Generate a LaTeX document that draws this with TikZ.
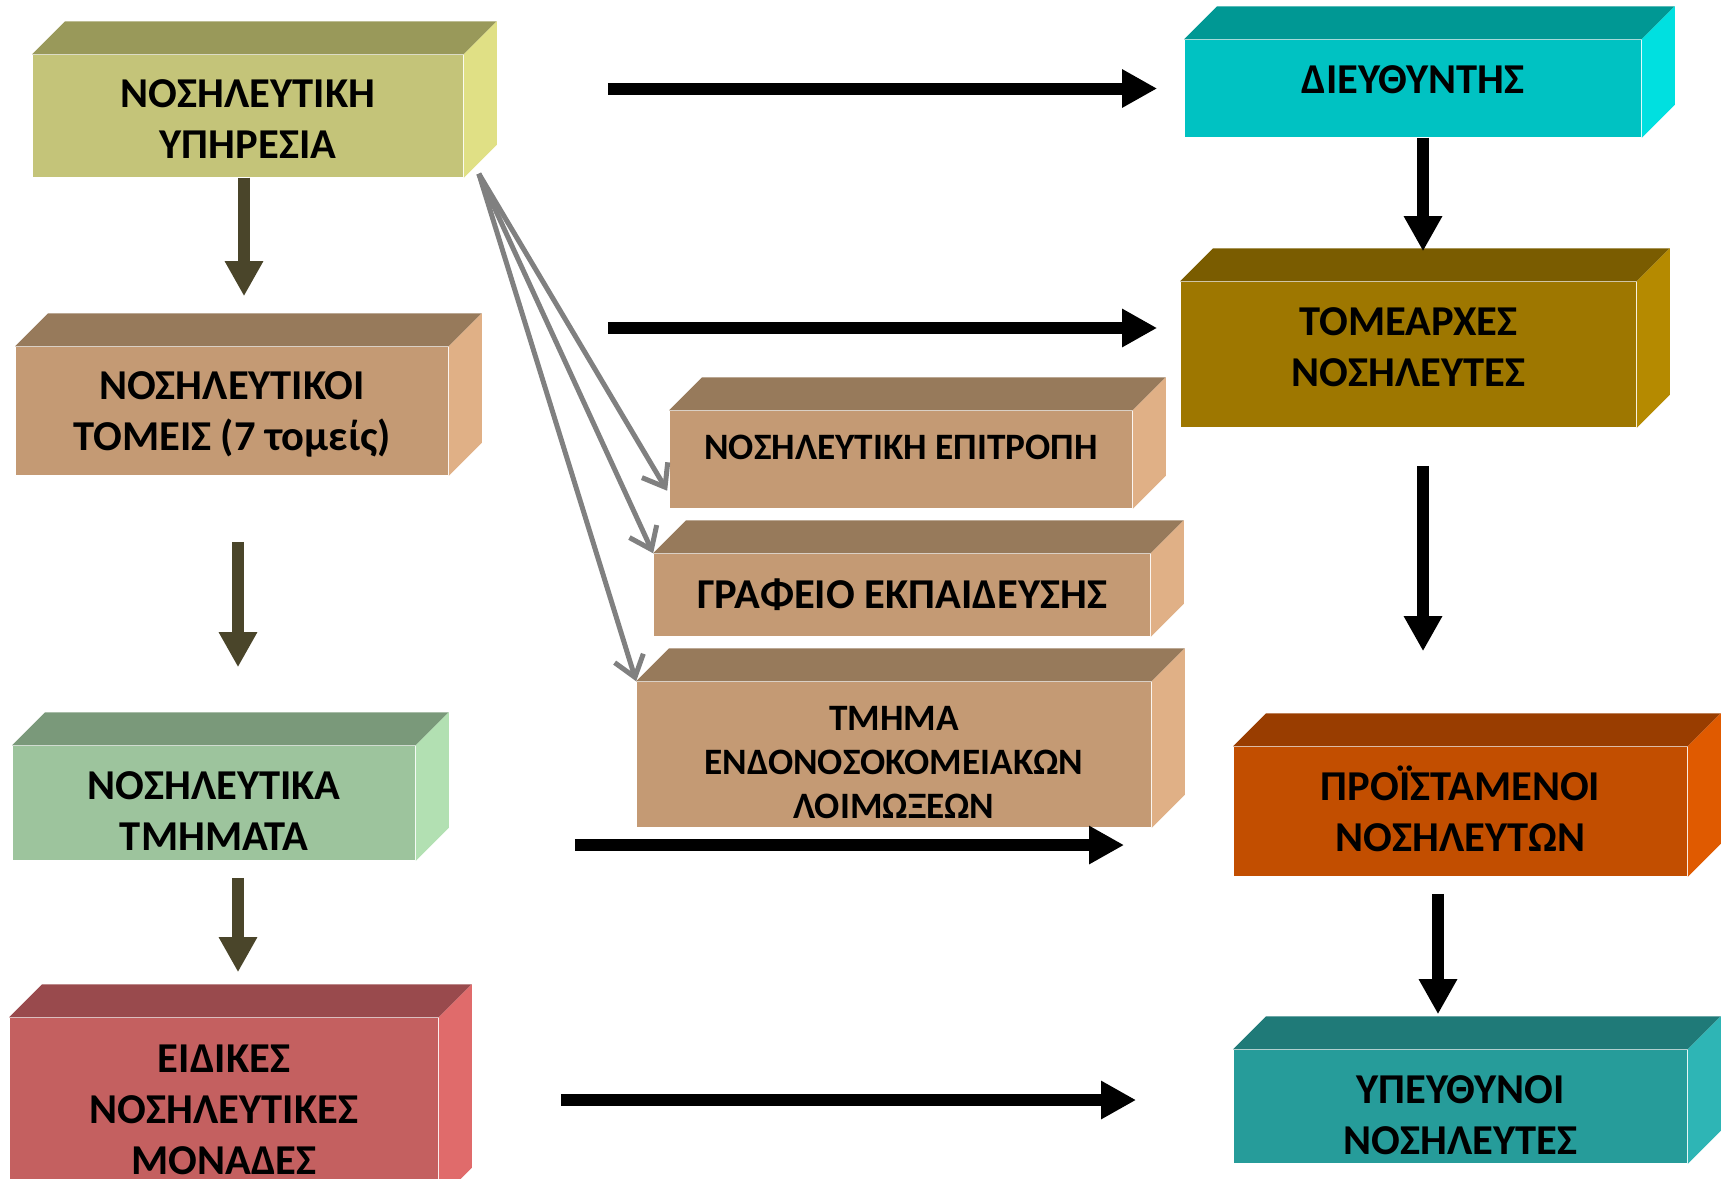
\documentclass[tikz,border=0pt]{standalone}
\usepackage{fontspec}
\setmainfont{Carlito}
\usetikzlibrary{calc}
\usetikzlibrary{arrows.meta}

\definecolor{oliveF}{RGB}{196,196,121}
\definecolor{oliveT}{RGB}{153,153,90}
\definecolor{oliveS}{RGB}{224,224,133}
\definecolor{tanF}{RGB}{196,154,116}
\definecolor{tanT}{RGB}{151,122,91}
\definecolor{tanS}{RGB}{224,176,134}
\definecolor{greenF}{RGB}{157,196,157}
\definecolor{greenT}{RGB}{122,153,122}
\definecolor{greenS}{RGB}{178,224,178}
\definecolor{redF}{RGB}{196,96,96}
\definecolor{redT}{RGB}{153,74,77}
\definecolor{redS}{RGB}{224,107,107}
\definecolor{cyanF}{RGB}{0,194,194}
\definecolor{cyanT}{RGB}{0,152,148}
\definecolor{cyanS}{RGB}{0,224,224}
\definecolor{ochreF}{RGB}{158,119,0}
\definecolor{ochreT}{RGB}{122,92,0}
\definecolor{ochreS}{RGB}{181,138,0}
\definecolor{orangeF}{RGB}{194,78,0}
\definecolor{orangeT}{RGB}{153,61,0}
\definecolor{orangeS}{RGB}{224,90,0}
\definecolor{tealF}{RGB}{38,156,154}
\definecolor{tealT}{RGB}{31,122,120}
\definecolor{tealS}{RGB}{46,181,181}
\definecolor{arrowdark}{RGB}{74,69,42}
\definecolor{arrowgray}{RGB}{128,128,128}

\newcommand\faces[3]{%
\fill[#2] (#1.north west)--++(33,-33)--($(#1.north east)+(33,-33)$)--(#1.north east)--cycle;
\fill[#3] (#1.north east)--++(33,-33)--($(#1.south east)+(33,-33)$)--(#1.south east)--cycle;
}

\tikzset{
  box/.style={rectangle, inner sep=0pt},
  txt/.style={inner sep=0pt, align=center, font=\bfseries\fontsize{12.1pt}{14.5pt}\selectfont},
  smalltxt/.style={txt, font=\bfseries\fontsize{10.6pt}{12.5pt}\selectfont},
  darr/.style={line width=0.12cm, draw=arrowdark, -{Triangle[length=0.35cm,width=0.36cm]}},
  barr/.style={line width=0.12cm, draw=black, -{Triangle[length=0.35cm,width=0.36cm]}},
  garr/.style={line width=0.05cm, draw=arrowgray, -{Straight Barb[length=0.2cm,width=0.3cm]}}
}

\begin{document}
\begin{tikzpicture}[x=0.01cm,y=-0.01cm]

\useasboundingbox (0,0) rectangle (1725,1178);

\node[box, fill=oliveF, minimum width=4.30cm, minimum height=1.22cm] (upiresia) at (248,116) {};
\faces{upiresia}{oliveT}{oliveS}
\node[txt] (upiresia-t) at ($(upiresia)+(0,3)$) {ΝΟΣΗΛΕΥΤΙΚΗ\\ΥΠΗΡΕΣΙΑ};
\node[box, fill=tanF, minimum width=4.32cm, minimum height=1.28cm] (tomeis) at (232,411) {};
\faces{tomeis}{tanT}{tanS}
\node[txt] (tomeis-t) at ($(tomeis)+(0,3)$) {ΝΟΣΗΛΕΥΤΙΚΟΙ\\ΤΟΜΕΙΣ (7 τομείς)};
\node[box, fill=greenF, minimum width=4.02cm, minimum height=1.14cm] (tmimata) at (214,803) {};
\faces{tmimata}{greenT}{greenS}
\node[txt] (tmimata-t) at ($(tmimata)+(0,8)$) {ΝΟΣΗΛΕΥΤΙΚΑ\\ΤΜΗΜΑΤΑ};
\node[box, fill=redF, minimum width=4.28cm, minimum height=1.82cm] (eidikes) at (224,1109) {};
\faces{eidikes}{redT}{redS}
\node[txt] (eidikes-t) at ($(eidikes)+(0,1)$) {ΕΙΔΙΚΕΣ\\ΝΟΣΗΛΕΥΤΙΚΕΣ\\ΜΟΝΑΔΕΣ};

\node[box, fill=tanF, minimum width=4.62cm, minimum height=0.97cm] (epitropi) at (901,459.5) {};
\faces{epitropi}{tanT}{tanS}
\node[smalltxt] (epitropi-t) at ($(epitropi)+(0,-12)$) {ΝΟΣΗΛΕΥΤΙΚΗ ΕΠΙΤΡΟΠΗ};
\node[box, fill=tanF, minimum width=4.96cm, minimum height=0.82cm] (grafeio) at (902,595) {};
\faces{grafeio}{tanT}{tanS}
\node[txt] (grafeio-t) at (grafeio) {ΓΡΑΦΕΙΟ ΕΚΠΑΙΔΕΥΣΗΣ};
\node[box, fill=tanF, minimum width=5.14cm, minimum height=1.45cm] (loimoxeis) at (894,754.5) {};
\faces{loimoxeis}{tanT}{tanS}
\node[smalltxt] (loimoxeis-t) at ($(loimoxeis)+(0,8)$) {ΤΜΗΜΑ\\ΕΝΔΟΝΟΣΟΚΟΜΕΙΑΚΩΝ\\ΛΟΙΜΩΞΕΩΝ};

\node[box, fill=cyanF, minimum width=4.56cm, minimum height=0.97cm] (diefth) at (1413,88.5) {};
\faces{diefth}{cyanT}{cyanS}
\node[txt] (diefth-t) at ($(diefth)+(0,-9)$) {ΔΙΕΥΘΥΝΤΗΣ};
\node[box, fill=ochreF, minimum width=4.55cm, minimum height=1.45cm] (tomearxes) at (1408.5,354.5) {};
\faces{tomearxes}{ochreT}{ochreS}
\node[txt] (tomearxes-t) at ($(tomearxes)+(0,-7)$) {ΤΟΜΕΑΡΧΕΣ\\ΝΟΣΗΛΕΥΤΕΣ};
\node[box, fill=orangeF, minimum width=4.53cm, minimum height=1.29cm] (proist) at (1460.5,811.5) {};
\faces{proist}{orangeT}{orangeS}
\node[txt] (proist-t) at ($(proist)+(0,-3)$) {ΠΡΟΪΣΤΑΜΕΝΟΙ\\ΝΟΣΗΛΕΥΤΩΝ};
\node[box, fill=tealF, minimum width=4.53cm, minimum height=1.13cm] (ypeuth) at (1460.5,1106.5) {};
\faces{ypeuth}{tealT}{tealS}
\node[txt] (ypeuth-t) at ($(ypeuth)+(0,9)$) {ΥΠΕΥΘΥΝΟΙ\\ΝΟΣΗΛΕΥΤΕΣ};

\draw[darr, shorten >=0.5cm] ([xshift=-0.04cm]upiresia.south) -- ([xshift=-0.04cm]upiresia.south |- tomeis.north);
\draw[darr, shorten <=0.66cm, shorten >=0.78cm] ([xshift=0.06cm]tomeis.south) -- ([xshift=0.06cm]tomeis.south |- tmimata.north);
\draw[darr, shorten <=0.17cm, shorten >=0.45cm] ([xshift=0.24cm]tmimata.south) -- ([xshift=0.24cm]tmimata.south |- eidikes.north);

\draw[barr, shorten >=0.30cm] ([xshift=0.10cm]diefth.south) -- ([xshift=0.10cm]diefth.south |- tomearxes.north);
\draw[barr, shorten <=0.38cm, shorten >=0.95cm] ([xshift=0.145cm]tomearxes.south) -- ([xshift=0.145cm]tomearxes.south |- proist.north);
\draw[barr, shorten <=0.17cm, shorten >=0.35cm] ([xshift=-0.225cm]proist.south) -- ([xshift=-0.225cm]proist.south |- ypeuth.north);

\draw[barr, shorten <=1.44cm, shorten >=0.27cm] (diefth.west -| upiresia.east) -- (diefth.west);
\draw[barr, shorten <=1.44cm, shorten >=0.23cm] ([yshift=0.265cm]tomearxes.west -| upiresia.east) -- ([yshift=0.265cm]tomearxes.west);
\draw[barr, shorten <=1.59cm, shorten >=1.09cm] ([yshift=-0.335cm]proist.west -| tmimata.east) -- ([yshift=-0.335cm]proist.west);
\draw[barr, shorten <=1.22cm, shorten >=0.97cm] ([yshift=0.065cm]ypeuth.west -| eidikes.east) -- ([yshift=0.065cm]ypeuth.west);

\coordinate (fan) at ($(upiresia.south east)+(15,-4)$);
\draw[garr] (fan) -- ($(epitropi.south west)+(-2,-18)$);
\draw[garr] (fan) -- (grafeio.north west);
\draw[garr] (fan) -- (loimoxeis.north west);

\end{tikzpicture}
\end{document}
